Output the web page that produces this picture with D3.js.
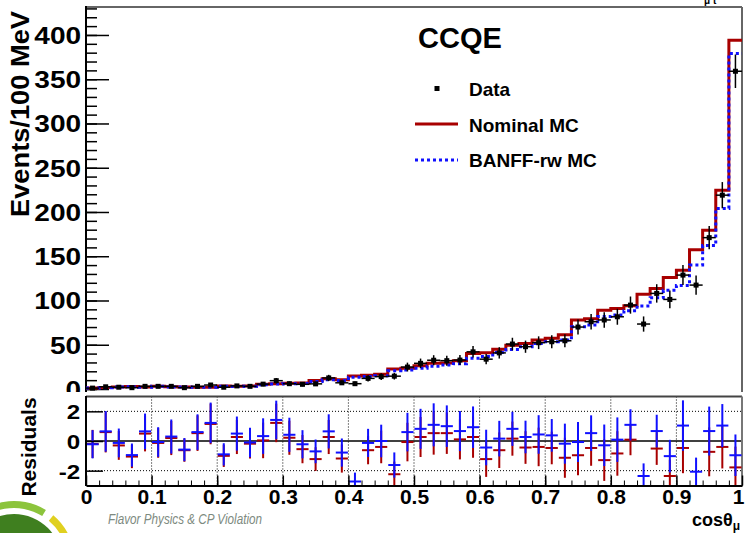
<!DOCTYPE html>
<html>
<head>
<meta charset="utf-8">
<script src="https://cdn.jsdelivr.net/npm/d3@7"></script>
<style>
	body { margin: 0; background: #fff; }
	svg { display: block; font-family: "Liberation Sans", Arial, sans-serif; }
	.lbl { font-weight: bold; fill: #000; }
</style>
</head>
<body>
<svg id="chart" width="746" height="533"></svg>
<script>
//===== DATA =====//

// 50 bins of 0.02 in cos(theta_mu), low edges
var binLowEdges = d3.range(50).map(function (i) { return i / 50; });
var binWidth = 0.02;

var nominalMC = [1.2, 1.6, 2.4, 2.8, 2.2, 3.2, 2.6, 2.3, 2.1, 2.0,
	3.4, 3.0, 3.3, 5.4, 6.0, 6.4, 6.8, 9.5, 11.5, 10.5,
	14.7, 15.5, 16.8, 22.5, 23.5, 26.3, 29.0, 29.5, 32.0, 40.2,
	41.0, 44.8, 49.5, 51.5, 55.3, 57.2, 61.3, 78.0, 79.5, 89.0,
	91.0, 94.0, 107.0, 113.5, 126.0, 134.3, 157.3, 179.5, 224.6, 394.0];

var banffMC = [1.1, 1.5, 2.2, 2.6, 2.0, 3.0, 2.4, 2.2, 1.9, 1.9,
	3.2, 2.7, 3.1, 4.9, 5.6, 5.9, 6.2, 8.6, 10.5, 9.5,
	13.3, 14.2, 15.0, 20.5, 21.5, 23.5, 25.8, 27.0, 28.6, 34.8,
	36.6, 41.2, 44.5, 47.8, 51.5, 53.4, 55.5, 70.3, 72.2, 82.0,
	83.5, 88.4, 93.7, 103.0, 111.7, 117.0, 140.0, 162.0, 204.0, 379.0];

var dataCounts = [1.0, 2.5, 2.0, 1.5, 3.0, 3.0, 3.0, 1.5, 3.0, 4.5,
	2.0, 3.5, 3.0, 5.5, 9.4, 6.0, 5.3, 5.8, 12.5, 7.0,
	6.0, 12.0, 14.0, 14.5, 24.8, 29.0, 32.5, 32.0, 32.7, 42.0,
	33.7, 40.8, 50.8, 47.8, 52.3, 53.4, 54.5, 70.0, 76.0, 78.0,
	81.6, 94.8, 73.4, 108.0, 101.2, 128.7, 117.4, 171.0, 219.0, 359.0];

var dataErr = [1.0, 1.6, 1.4, 1.2, 1.7, 1.7, 1.7, 1.2, 1.7, 2.1,
	1.4, 1.9, 1.7, 2.3, 3.1, 2.5, 2.3, 2.4, 3.5, 2.6,
	2.4, 3.4, 3.7, 3.8, 5.0, 5.4, 5.7, 5.7, 5.7, 6.5,
	5.8, 6.4, 7.1, 6.9, 7.2, 7.3, 7.4, 8.4, 8.7, 8.8,
	9.0, 9.7, 8.6, 10.4, 10.1, 11.3, 10.8, 13.1, 14.8, 18.9];

var resNominal = [-0.2, 0.6, -0.3, -1.05, 0.5, -0.13, 0.2, -0.62, 0.53, 1.15,
	-1.0, 0.27, -0.18, 0.04, 1.22, 0.22, -0.55, -1.22, 0.27, -1.18,
	-3.3, -0.62, -0.4, -2.24, -0.07, 0.27, 0.53, 0.53, 0.11, 0.27,
	-1.22, -0.62, 0.16, -0.44, -0.4, -0.47, -1.13, -0.96, -0.47, -1.29,
	-0.84, 0.09, -3.9, -0.51, -2.36, -0.47, -3.7, -0.73, -0.4, -1.78];

var resBanff = [-0.22, 0.65, -0.13, -0.95, 0.65, -0.07, 0.3, -0.58, 0.6, 1.22,
	-0.9, 0.5, -0.1, 0.33, 1.42, 0.42, -0.22, -0.7, 0.65, -0.78,
	-2.73, -0.13, 0.0, -1.62, 0.6, 0.82, 1.09, 1.0, 0.67, 0.93,
	-0.44, 0.16, 0.82, 0.27, 0.44, 0.38, -0.18, -0.07, 0.53, -0.29,
	0.09, 1.09, -2.36, 0.67, -1.02, 1.04, -2.07, 0.67, 1.04, -0.96];

var resErr = [0.95, 1.37, 0.97, 0.78, 1.2, 1.0, 1.15, 0.78, 1.2, 1.37,
	0.75, 1.15, 1.0, 1.2, 1.3, 1.15, 0.95, 0.8, 1.15, 0.95,
	0.6, 0.95, 1.1, 0.85, 1.3, 1.35, 1.45, 1.4, 1.35, 1.4,
	1.2, 1.2, 1.15, 1.1, 1.3, 1.1, 1.35, 1.35, 1.2, 1.4,
	1.5, 1.05, 0.85, 1.1, 1.1, 1.7, 0.95, 1.65, 1.45, 1.4];

var eventTicks = [0, 50, 100, 150, 200, 250, 300, 350, 400];
var residualTicks = [-2, 0, 2];
var cosTicks = [0, 0.1, 0.2, 0.3, 0.4, 0.5, 0.6, 0.7, 0.8, 0.9, 1];

var nominalColor = '#a80000';
var banffColor = '#1010ff';

//===== SCALES =====//

var svg = d3.select('#chart');
var x = d3.scaleLinear().domain([0, 1]).range([86, 742]);
var y = d3.scaleLinear().domain([0, 431.6]).range([389, 7]);
var yr = d3.scaleLinear().domain([-3, 3]).range([485.5, 396.5]);

function stepPath(values, yScale) {
	var p = d3.path();
	values.forEach(function (v, i) {
		var x0 = x(binLowEdges[i]), x1 = x(binLowEdges[i] + binWidth);
		if (i === 0) { p.moveTo(x0, yScale(v)); } else { p.lineTo(x0, yScale(v)); }
		p.lineTo(x1, yScale(v));
	});
	return p.toString();
}

//===== TOP PAD =====//

var topPad = svg.append('g');

// y axis, major + minor ticks pointing inward
topPad.append('g')
	.attr('transform', 'translate(86,0)')
	.call(d3.axisLeft(y).tickValues(d3.range(0, 431, 10)).tickSize(-11).tickFormat(''))
	.call(function (g) { g.select('.domain').remove(); });
var yAxis = topPad.append('g')
	.attr('transform', 'translate(86,0)')
	.call(d3.axisLeft(y).tickValues(eventTicks).tickSize(-23).tickSizeOuter(0).tickPadding(4));
// the original's axis digits are wider than plain Helvetica
yAxis.selectAll('text').attr('class', 'lbl').style('font-size', '23px').attr('dy', '0.36em')
	.attr('transform', 'scale(1.22,1)');
topPad.selectAll('.tick line').attr('stroke', '#000').attr('stroke-width', 1.5);
yAxis.select('.domain').remove();

// frame
topPad.append('line').attr('x1', 86).attr('x2', 742).attr('y1', 7).attr('y2', 7)
	.attr('stroke', '#666').attr('stroke-width', 2);
topPad.append('line').attr('x1', 742).attr('x2', 742).attr('y1', 7).attr('y2', 392)
	.attr('stroke', '#666').attr('stroke-width', 2);
topPad.append('line').attr('x1', 86).attr('x2', 86).attr('y1', 6).attr('y2', 392)
	.attr('stroke', '#000').attr('stroke-width', 2);

// histograms
topPad.append('path').attr('d', stepPath(nominalMC, y))
	.attr('fill', 'none').attr('stroke', nominalColor).attr('stroke-width', 3);
topPad.append('path').attr('d', stepPath(banffMC, y))
	.attr('fill', 'none').attr('stroke', banffColor).attr('stroke-width', 3)
	.attr('stroke-dasharray', '3,3');

// data points
var pts = topPad.selectAll('g.pt').data(dataCounts).enter().append('g').classed('pt', true);
pts.append('line')
	.attr('x1', function (d, i) { return x(binLowEdges[i]); })
	.attr('x2', function (d, i) { return x(binLowEdges[i] + binWidth); })
	.attr('y1', function (d) { return y(d); })
	.attr('y2', function (d) { return y(d); })
	.attr('stroke', '#000').attr('stroke-width', 1.5);
pts.append('line')
	.attr('x1', function (d, i) { return x(binLowEdges[i] + binWidth / 2); })
	.attr('x2', function (d, i) { return x(binLowEdges[i] + binWidth / 2); })
	.attr('y1', function (d, i) { return y(Math.max(0, d - dataErr[i])); })
	.attr('y2', function (d, i) { return y(d + dataErr[i]); })
	.attr('stroke', '#000').attr('stroke-width', 1.5);
pts.append('rect')
	.attr('x', function (d, i) { return x(binLowEdges[i] + binWidth / 2) - 2.5; })
	.attr('y', function (d) { return y(d) - 2.5; })
	.attr('width', 5).attr('height', 5).attr('fill', '#000');

// title + legend
topPad.append('text').attr('class', 'lbl').attr('x', 418).attr('y', 48)
	.style('font-size', '29px').text('CCQE');
var legend = topPad.append('g');
legend.append('rect').attr('x', 434.5).attr('y', 86).attr('width', 5).attr('height', 5).attr('fill', '#000');
legend.append('line').attr('x1', 415).attr('x2', 458).attr('y1', 124).attr('y2', 124)
	.attr('stroke', nominalColor).attr('stroke-width', 3);
legend.append('line').attr('x1', 415).attr('x2', 458).attr('y1', 160).attr('y2', 160)
	.attr('stroke', banffColor).attr('stroke-width', 3).attr('stroke-dasharray', '3,3');
[['Data', 89], ['Nominal MC', 125], ['BANFF-rw MC', 160]].forEach(function (e) {
	legend.append('text').attr('class', 'lbl').attr('x', 469).attr('y', e[1])
		.attr('dy', '0.36em').style('font-size', '19px').text(e[0]);
});

topPad.append('text').attr('class', 'lbl')
	.attr('transform', 'translate(29,114) rotate(-90)')
	.attr('text-anchor', 'middle').attr('textLength', 206).attr('lengthAdjust', 'spacingAndGlyphs')
	.style('font-size', '25px').text('Events/100 MeV');

// cut-off remnant of a label above the frame
topPad.append('text').attr('x', 704).attr('y', 4).style('font-size', '10px')
	.style('font-weight', 'bold').text('μ  t');

//===== RESIDUAL PAD =====//

var bot = svg.append('g');
bot.append('rect').attr('x', 0).attr('y', 392).attr('width', 746).attr('height', 141).attr('fill', '#fff');

// grid
bot.selectAll('line.vgrid').data(cosTicks.slice(1, -1)).enter().append('line')
	.attr('x1', function (d) { return x(d); }).attr('x2', function (d) { return x(d); })
	.attr('y1', 396.5).attr('y2', 485.5)
	.attr('stroke', '#000').attr('stroke-width', 1).attr('stroke-dasharray', '1,2');
bot.selectAll('line.hgrid').data([-2, 2]).enter().append('line')
	.attr('x1', 86).attr('x2', 742)
	.attr('y1', function (d) { return yr(d); }).attr('y2', function (d) { return yr(d); })
	.attr('stroke', '#000').attr('stroke-width', 1).attr('stroke-dasharray', '1,2');
bot.append('line').attr('x1', 86).attr('x2', 742).attr('y1', yr(0)).attr('y2', yr(0))
	.attr('stroke', '#000').attr('stroke-width', 1.5);

// frame
bot.append('line').attr('x1', 86).attr('x2', 742).attr('y1', 396.5).attr('y2', 396.5)
	.attr('stroke', '#444').attr('stroke-width', 2);
bot.append('line').attr('x1', 742).attr('x2', 742).attr('y1', 396.5).attr('y2', 485.5)
	.attr('stroke', '#777').attr('stroke-width', 2);

// residual points, nominal under banff; points outside the range are not drawn
function drawResiduals(values, color) {
	var g = bot.append('g');
	values.forEach(function (d, i) {
		if (d < -3 || d > 3) { return; }
		var cx = x(binLowEdges[i] + binWidth / 2);
		g.append('line')
			.attr('x1', cx).attr('x2', cx)
			.attr('y1', yr(Math.max(-3, d - resErr[i]))).attr('y2', yr(Math.min(3, d + resErr[i])))
			.attr('stroke', color).attr('stroke-width', 2);
		g.append('line')
			.attr('x1', x(binLowEdges[i]) + 0.5).attr('x2', x(binLowEdges[i] + binWidth) - 0.5)
			.attr('y1', yr(d)).attr('y2', yr(d))
			.attr('stroke', color).attr('stroke-width', 2);
	});
}
drawResiduals(resNominal, nominalColor);
drawResiduals(resBanff, banffColor);

// axes
var rAxis = bot.append('g')
	.attr('transform', 'translate(86,0)')
	.call(d3.axisLeft(yr).tickValues(residualTicks).tickSize(-17).tickSizeOuter(0).tickPadding(5)
		.tickFormat(function (d) { return String(d); }));
rAxis.select('.domain').remove();
rAxis.selectAll('text').attr('class', 'lbl').style('font-size', '21px').attr('dy', '0.36em')
	.attr('transform', 'scale(1.15,1)');
rAxis.selectAll('.tick line').attr('stroke', '#000').attr('stroke-width', 1.5);
bot.append('line').attr('x1', 86).attr('x2', 86).attr('y1', 396).attr('y2', 486)
	.attr('stroke', '#000').attr('stroke-width', 2);

bot.append('g')
	.attr('transform', 'translate(0,485.5)')
	.call(d3.axisBottom(x).tickValues(binLowEdges.concat([1])).tickSize(-5).tickFormat(''))
	.call(function (g) { g.select('.domain').remove(); })
	.selectAll('line').attr('stroke', '#000');
var xAxis = bot.append('g')
	.attr('transform', 'translate(0,485.5)')
	.call(d3.axisBottom(x).tickValues(cosTicks).tickSize(-10).tickSizeOuter(0).tickPadding(4)
		.tickFormat(function (d) { return d === 0 ? '0' : d === 1 ? '1' : d3.format('.1f')(d); }));
xAxis.select('.domain').attr('stroke', '#000').attr('stroke-width', 2);
xAxis.selectAll('.tick line').attr('stroke', '#000').attr('stroke-width', 1.5);
xAxis.selectAll('text').attr('class', 'lbl').style('font-size', '21px').attr('dy', '0.71em')
	.attr('dx', function (d) { return d === 1 ? -4 : 0; });

var xt = bot.append('text').attr('class', 'lbl').attr('x', 692).attr('y', 526).style('font-size', '18px');
xt.append('tspan').text('cosθ');
xt.append('tspan').attr('dy', 4).style('font-size', '12px').text('μ');

bot.append('text').attr('class', 'lbl')
	.attr('transform', 'translate(36,447) rotate(-90)')
	.attr('text-anchor', 'middle').style('font-size', '21px').text('Residuals');

//===== LOGO =====//

var logo = svg.append('g');
logo.append('circle').attr('cx', 14).attr('cy', 562).attr('r', 48).attr('fill', '#3f7f1f');
logo.append('path')
	.attr('d', d3.arc().innerRadius(54).outerRadius(61).startAngle(-0.9).endAngle(0.55)())
	.attr('transform', 'translate(14,562)').attr('fill', '#8cc43c');
logo.append('path')
	.attr('d', d3.arc().innerRadius(54).outerRadius(61).startAngle(0.7).endAngle(1.1)())
	.attr('transform', 'translate(14,562)').attr('fill', '#e0d020');
logo.append('text').attr('x', 108).attr('y', 524)
	.attr('textLength', 154).attr('lengthAdjust', 'spacingAndGlyphs')
	.style('font-size', '14px').style('font-style', 'italic').attr('fill', '#7d8a80')
	.text('Flavor Physics & CP Violation');
</script>
</body>
</html>
